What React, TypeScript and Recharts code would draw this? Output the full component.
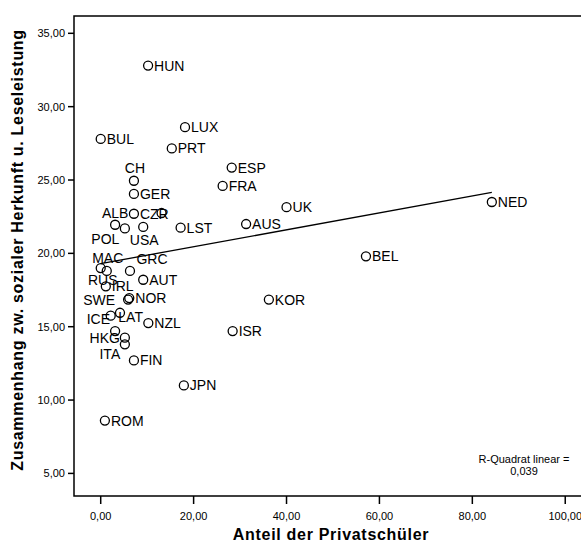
import { ScatterChart, Scatter, XAxis, YAxis, ReferenceArea, ReferenceLine, Label } from 'recharts';

// Länderkürzel, Anteil der Privatschüler (%), Zusammenhang Herkunft/Leseleistung
const countries = [
  'HUN', 'BUL', 'LUX', 'PRT', 'ESP', 'FRA', 'CH', 'GER', 'CZR', '',
  'ALB', 'POL', 'USA', 'LST', 'AUS', 'UK', 'NED', 'BEL', 'KOR', 'ISR',
  'MAC', 'RUS', 'GRC', 'IRL', 'AUT', 'NOR', 'SWE', 'ICE', 'LAT', 'NZL',
  '', 'HKG', 'ITA', 'FIN', 'JPN', 'ROM',
];
const privateShare = [
  10.2, 0.0, 18.15, 15.3, 28.2, 26.25, 7.15, 7.15, 7.15, 13.1,
  3.1, 5.2, 9.15, 17.2, 31.3, 40.0, 84.2, 57.1, 36.2, 28.4,
  0.0, 1.3, 6.3, 1.1, 9.15, 6.15, 5.9, 4.15, 2.15, 10.25,
  3.1, 5.2, 5.2, 7.15, 17.9, 0.9,
];
const socialGradient = [
  32.8, 27.8, 28.6, 27.15, 25.85, 24.6, 24.95, 24.05, 22.7, 22.75,
  21.95, 21.7, 21.8, 21.75, 22.0, 23.15, 23.5, 19.8, 16.85, 14.7,
  19.0, 18.8, 18.8, 17.75, 18.2, 16.95, 16.85, 15.95, 15.75, 15.25,
  14.7, 14.25, 13.8, 12.7, 11.0, 8.6,
];

const xTicks = [0, 20, 40, 60, 80, 100];
const yTicks = [5, 10, 15, 20, 25, 30, 35];

// Regressionsgerade
const fitX = [0, 84.2];
const fitY = [19.3, 24.15];
const rSquared = '0,039';

const FONT = '"Liberation Sans", Arial, sans-serif';
const fmt = (v: number) => v.toFixed(2).replace('.', ',');

// Beschriftungen, die nicht rechts neben dem Punkt stehen: [dx, dy, anchor]
const LABEL_POS: Record<string, [number, number, 'start' | 'middle' | 'end']> = {
  CH: [1, -13, 'middle'],
  ALB: [0, -12, 'middle'],
  POL: [-19.5, 11, 'middle'],
  USA: [1, 12.6, 'middle'],
  MAC: [7, -10, 'middle'],
  GRC: [22, -12.4, 'middle'],
  RUS: [-4, 8.6, 'middle'],
  SWE: [-13, 0, 'end'],
  ICE: [-10, 6.6, 'end'],
  LAT: [7.6, 1.3, 'start'],
  HKG: [-5, 0.4, 'end'],
  ITA: [-15, 9.3, 'middle'],
};

const points = countries.map((name, i) => ({ name, x: privateShare[i], y: socialGradient[i] }));

function Point(props: any) {
  const { cx, cy, payload } = props;
  const [dx, dy, anchor] = LABEL_POS[payload.name] ?? [6, 0, 'start'];
  return (
    <g>
      <circle cx={cx} cy={cy} r={4.5} fill="none" stroke="#000" strokeWidth={1.3} />
      {payload.name && (
        <text
          x={cx + dx}
          y={cy + dy}
          textAnchor={anchor}
          dominantBaseline="central"
          fontSize={14}
          fontFamily={FONT}
          fill="#000"
        >
          {payload.name}
        </text>
      )}
    </g>
  );
}

const tickStyle = { fill: '#000', fontSize: 11, fontFamily: FONT };

export default function App() {
  return (
    <div
      style={{
        position: 'fixed',
        left: 0,
        top: 0,
        width: 581,
        height: 543,
        overflow: 'hidden',
        background: '#fff',
      }}
    >
      <ScatterChart width={600} height={543} margin={{ top: 16, right: 12, bottom: 0, left: 0 }}>
        <XAxis
          type="number"
          dataKey="x"
          domain={[-5.75, 104.9]}
          ticks={xTicks}
          tickFormatter={fmt}
          allowDataOverflow
          height={47}
          axisLine={false}
          tickSize={8}
          tickMargin={8}
          tickLine={{ stroke: '#000', strokeWidth: 1.5 }}
          tick={tickStyle}
        >
          <Label
            content={(p: any) => {
              const vb = p.viewBox;
              return (
                <text
                  x={vb.x + vb.width / 2}
                  y={vb.y + 38}
                  textAnchor="middle"
                  dominantBaseline="central"
                  fontSize={16}
                  fontWeight="bold"
                  letterSpacing={0.7}
                  fontFamily={FONT}
                  fill="#000"
                >
                  Anteil der Privatschüler
                </text>
              );
            }}
          />
        </XAxis>
        <YAxis
          type="number"
          dataKey="y"
          domain={[3.46, 36.18]}
          ticks={yTicks}
          tickFormatter={fmt}
          allowDataOverflow
          width={74}
          axisLine={false}
          tickSize={6}
          tickMargin={3}
          tickLine={{ stroke: '#000', strokeWidth: 1.5 }}
          tick={tickStyle}
        >
          <Label
            content={(p: any) => {
              const vb = p.viewBox;
              const cx = 17;
              const cy = vb.y + vb.height / 2 - 6;
              return (
                <text
                  x={cx}
                  y={cy}
                  transform={`rotate(-90 ${cx} ${cy})`}
                  textAnchor="middle"
                  dominantBaseline="central"
                  fontSize={16}
                  fontWeight="bold"
                  letterSpacing={0.7}
                  fontFamily={FONT}
                  fill="#000"
                >
                  Zusammenhang zw. sozialer Herkunft u. Leseleistung
                </text>
              );
            }}
          />
        </YAxis>
        <ReferenceArea
          x1={-5.75}
          x2={104.9}
          y1={3.46}
          y2={36.18}
          fill="none"
          stroke="#000"
          strokeWidth={1.5}
          ifOverflow="visible"
        />
        <Scatter data={points} dataKey="y" shape={Point} isAnimationActive={false} />
        <ReferenceLine
          segment={[
            { x: fitX[0], y: fitY[0] },
            { x: fitX[1], y: fitY[1] },
          ]}
          stroke="#000"
          strokeWidth={1.3}
          ifOverflow="visible"
        />
      </ScatterChart>
      <div
        style={{
          position: 'absolute',
          left: 461,
          top: 453,
          width: 126,
          textAlign: 'center',
          fontFamily: FONT,
          fontSize: 11,
          lineHeight: '12px',
          color: '#000',
        }}
      >
        R-Quadrat linear =
        <br />
        {rSquared}
      </div>
    </div>
  );
}
